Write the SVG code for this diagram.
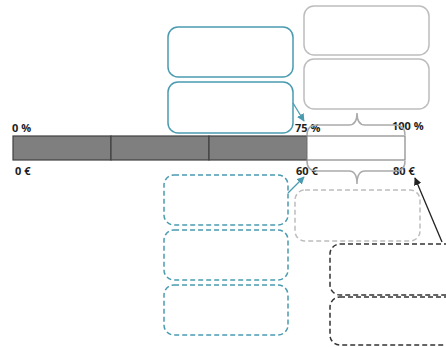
<svg xmlns="http://www.w3.org/2000/svg" width="446" height="347" viewBox="0 0 446 347">
<defs>
<marker id="ah-teal" viewBox="0 0 10 10" refX="9" refY="5" markerWidth="6" markerHeight="6" orient="auto"><path d="M0,0 L10,5 L0,10 z" fill="#4a9bb0"/></marker>
<marker id="ah-black" viewBox="0 0 10 10" refX="9" refY="5" markerWidth="6" markerHeight="6" orient="auto"><path d="M0,0 L10,5 L0,10 z" fill="#222"/></marker>
</defs>
<style>
.lbl{font-family:"Open Sans","Liberation Sans",sans-serif;font-weight:bold;font-size:11px;fill:#222}
.teal{fill:#fff;stroke:#4a9bb0;stroke-width:1.5}
.tealD{fill:#fff;stroke:#4a9bb0;stroke-width:1.5;stroke-dasharray:5,3}
.gray{fill:#fff;stroke:#bdbdbd;stroke-width:1.5}
.grayD{fill:#fff;stroke:#bdbdbd;stroke-width:1.5;stroke-dasharray:5,3}
.blackD{fill:#fff;stroke:#333;stroke-width:1.5;stroke-dasharray:5,3}
.brace{fill:none;stroke:#aaa;stroke-width:1.5}
</style>
<rect width="446" height="347" fill="#fff"/>
<g id="bar">
<rect x="13" y="136" width="98" height="24" fill="#7f7f7f" stroke="#404040" stroke-width="1.2"/>
<rect x="111" y="136" width="98" height="24" fill="#7f7f7f" stroke="#404040" stroke-width="1.2"/>
<rect x="209" y="136" width="98" height="24" fill="#7f7f7f" stroke="#404040" stroke-width="1.2"/>
<rect x="307" y="136" width="98" height="24" fill="#fff" stroke="#888" stroke-width="1.2"/>
</g>
<g id="labels">
<text class="lbl" x="12" y="132">0 %</text>
<text class="lbl" x="295" y="132">75 %</text>
<text class="lbl" x="392" y="130">100 %</text>
<text class="lbl" x="15" y="175">0 €</text>
<text class="lbl" x="296" y="175">60 €</text>
<text class="lbl" x="393" y="175">80 €</text>
</g>
<g id="braces">
<path class="brace" d="M307,135 Q307,125 317,125 L349,125 Q357,125 357,113 Q357,125 365,125 L395,125 Q405,125 405,135"/>
<path class="brace" d="M307,161 Q307,171 317,171 L349,171 Q357,171 357,184 Q357,171 365,171 L395,171 Q405,171 405,161"/>
</g>
<g id="node-teal-1"><rect class="teal" x="168" y="27" width="125" height="50" rx="10"/></g>
<g id="node-teal-2"><rect class="teal" x="168" y="82" width="125" height="51" rx="10"/></g>
<g id="node-gray-1"><rect class="gray" x="304" y="6" width="125" height="49" rx="10"/></g>
<g id="node-gray-2"><rect class="gray" x="304" y="59" width="125" height="50" rx="10"/></g>
<g id="node-tealD-1"><rect class="tealD" x="164" y="175" width="124" height="50" rx="10"/></g>
<g id="node-tealD-2"><rect class="tealD" x="164" y="230" width="124" height="50" rx="10"/></g>
<g id="node-tealD-3"><rect class="tealD" x="164" y="285" width="124" height="50" rx="10"/></g>
<g id="node-grayD"><rect class="grayD" x="295" y="190" width="125" height="51" rx="10"/></g>
<g id="node-blackD-1"><rect class="blackD" x="330" y="244" width="130" height="51" rx="10"/></g>
<g id="node-blackD-2"><rect class="blackD" x="330" y="297" width="130" height="48" rx="10"/></g>
<g id="connectors">
<line x1="293" y1="103" x2="304" y2="121" stroke="#4a9bb0" stroke-width="1.3" marker-end="url(#ah-teal)"/>
<line x1="288" y1="193" x2="304" y2="177" stroke="#4a9bb0" stroke-width="1.3" marker-end="url(#ah-teal)"/>
<line x1="442" y1="242" x2="415" y2="178" stroke="#222" stroke-width="1.3" marker-end="url(#ah-black)"/>
</g>
</svg>
